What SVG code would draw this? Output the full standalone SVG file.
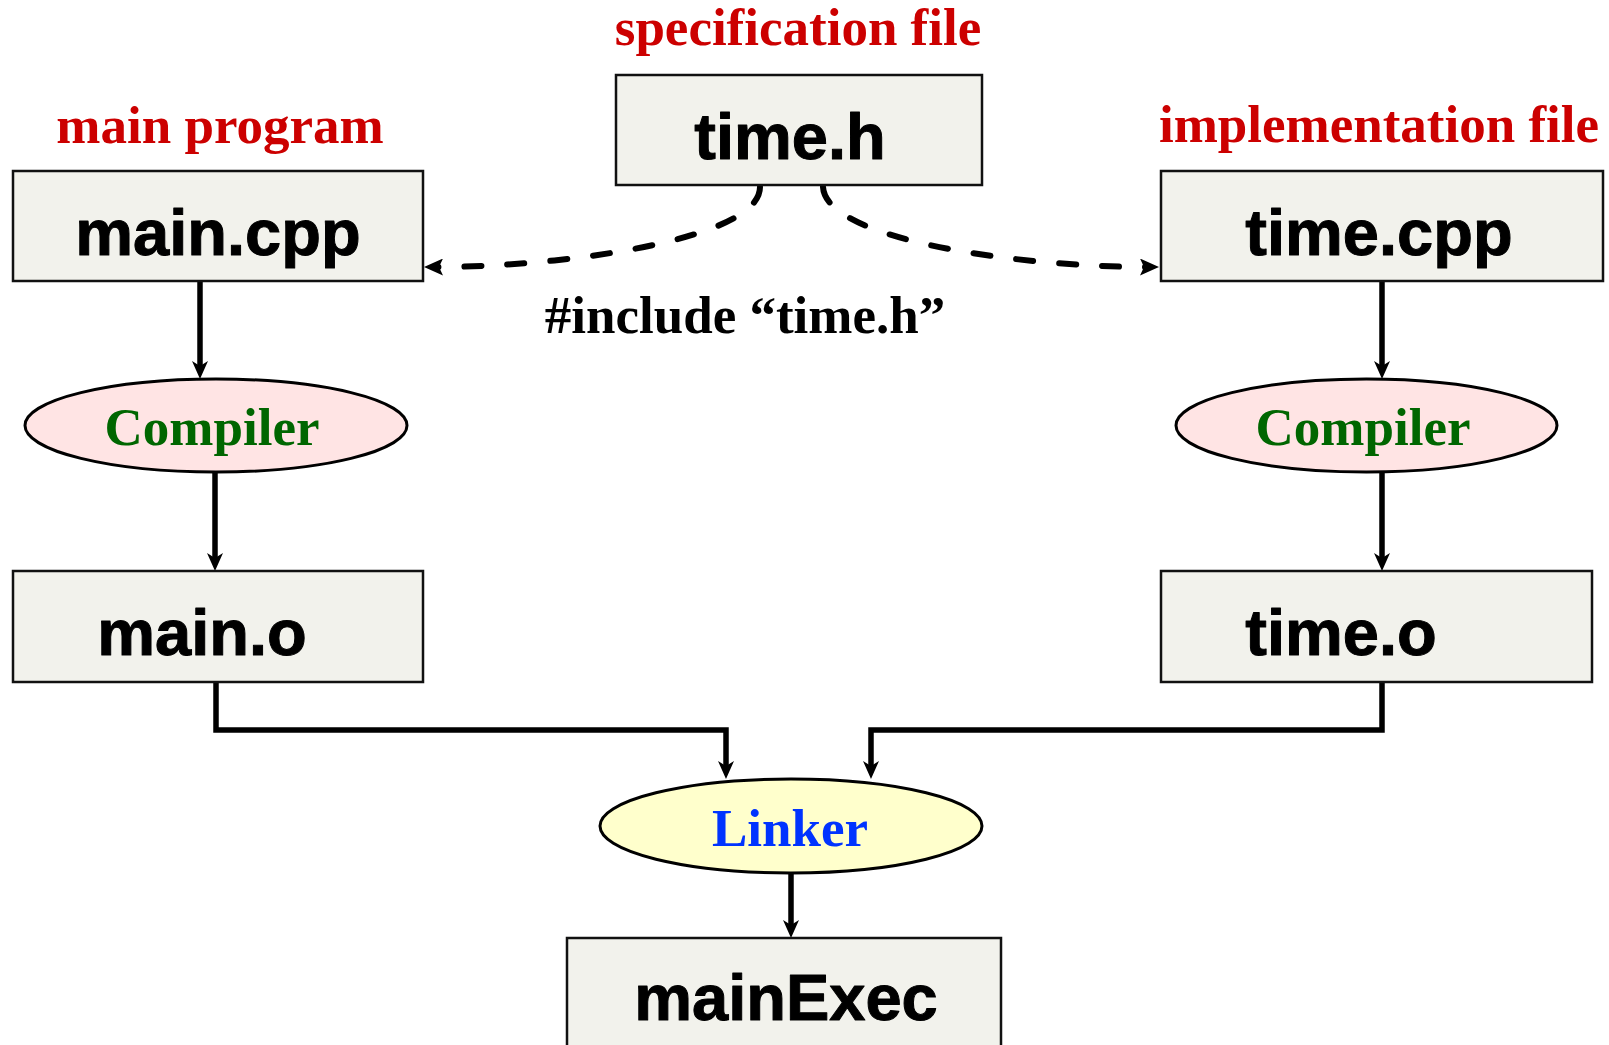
<svg xmlns="http://www.w3.org/2000/svg" width="1609" height="1045" viewBox="0 0 1609 1045">
<defs>
<style>
.box{fill:#F2F2EC;stroke:#111;stroke-width:2.5}
.ell{stroke:#000;stroke-width:3}
.comp{fill:#FFE4E4}
.link{fill:#FFFFCC}
.file{font-family:"Liberation Sans",Arial,sans-serif;font-weight:bold;font-size:65px;fill:#000;text-anchor:middle;stroke:#000;stroke-width:1;stroke-linejoin:round}
.label{font-family:"Liberation Serif","Times New Roman",serif;font-weight:bold;font-size:53px;text-anchor:middle}
.red{fill:#CC0000}
.green{fill:#006600}
.blue{fill:#0033FF}
.blk{fill:#000}
.conn{fill:none;stroke:#000;stroke-width:5.5}
.dash{fill:none;stroke:#000;stroke-width:6;stroke-dasharray:17 26;stroke-linecap:round}
</style>
<marker id="arr" viewBox="0 0 18 16" refX="8" refY="8" markerWidth="18" markerHeight="16" markerUnits="userSpaceOnUse" orient="auto">
<path d="M0,0 L18,8 L0,16 L5,8 z" fill="#000"/>
</marker>
<marker id="darr" viewBox="0 0 19 17" refX="7" refY="8.5" markerWidth="19" markerHeight="17" markerUnits="userSpaceOnUse" orient="auto">
<path d="M0,0 L19,8.5 L0,17 L4,8.5 z" fill="#000"/>
</marker>
</defs>
<rect width="1609" height="1045" fill="#fff"/>

<g id="labels">
<text class="label red" x="798" y="45">specification file</text>
<text class="label red" x="220" y="143">main program</text>
<text class="label red" x="1379" y="142">implementation file</text>
<text class="label blk" x="745" y="333">#include “time.h”</text>
</g>

<g id="connectors">
<path class="dash" d="M760,187 C760,240 560,267 436,267" marker-end="url(#darr)"/>
<path class="dash" d="M823,187 C826,240 1020,267 1147,267" marker-end="url(#darr)"/>
<path class="conn" d="M200,282 V369" marker-end="url(#arr)"/>
<path class="conn" d="M215,473 V561" marker-end="url(#arr)"/>
<path class="conn" d="M216,683 V730 H726 V769" marker-end="url(#arr)"/>
<path class="conn" d="M1382,683 V730 H871 V769" marker-end="url(#arr)"/>
<path class="conn" d="M791,874 V928" marker-end="url(#arr)"/>
<path class="conn" d="M1382,282 V369" marker-end="url(#arr)"/>
<path class="conn" d="M1382,473 V561" marker-end="url(#arr)"/>
</g>

<g id="time_h">
<rect class="box" x="616" y="75" width="366" height="110"/>
<text class="file" x="790" y="159">time.h</text>
</g>
<g id="main_cpp">
<rect class="box" x="13" y="171" width="410" height="110"/>
<text class="file" x="218" y="255">main.cpp</text>
</g>
<g id="time_cpp">
<rect class="box" x="1161" y="171" width="442" height="110"/>
<text class="file" x="1379" y="255">time.cpp</text>
</g>
<g id="compiler_left">
<ellipse class="ell comp" cx="216" cy="425.5" rx="191" ry="46.5"/>
<text class="label green" x="212" y="445">Compiler</text>
</g>
<g id="compiler_right">
<ellipse class="ell comp" cx="1366.5" cy="425.5" rx="190.5" ry="46.5"/>
<text class="label green" x="1363" y="445">Compiler</text>
</g>
<g id="main_o">
<rect class="box" x="13" y="571" width="410" height="111"/>
<text class="file" x="202" y="655">main.o</text>
</g>
<g id="time_o">
<rect class="box" x="1161" y="571" width="431" height="111"/>
<text class="file" x="1341" y="655">time.o</text>
</g>
<g id="linker">
<ellipse class="ell link" cx="791" cy="826" rx="191" ry="47"/>
<text class="label blue" x="790" y="846">Linker</text>
</g>
<g id="mainExec">
<rect class="box" x="567" y="938" width="434" height="120"/>
<text class="file" x="786" y="1020">mainExec</text>
</g>
</svg>
